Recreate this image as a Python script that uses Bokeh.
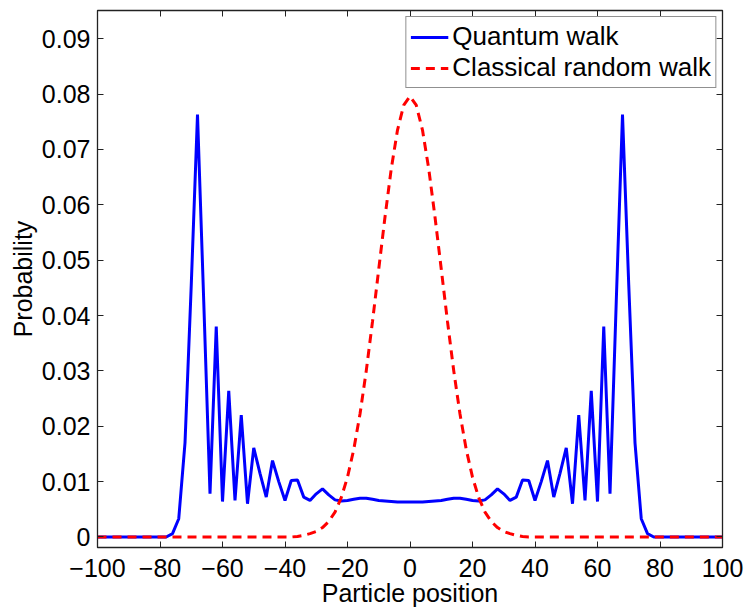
from bokeh.plotting import figure
from bokeh.models import (LinearAxis, Range1d, FixedTicker, Legend, LegendItem,
                          CustomLabelingPolicy)
from bokeh.embed import file_html
from bokeh.resources import INLINE

positions = list(range(-100, 101, 2))

quantum = [
    0, 0, 0, 0, 0, 0, 0, 0, 0, 0, 0, 0,
    0.0006, 0.0033, 0.0170, 0.0455, 0.0763, 0.0425, 0.0078, 0.0380, 0.0064, 0.0264,
    0.0066, 0.0220, 0.0060, 0.0161, 0.0115, 0.0072, 0.0138, 0.0100, 0.0066, 0.0102,
    0.0103, 0.0072, 0.0066, 0.0078, 0.0087, 0.0076, 0.0067, 0.0065, 0.0066, 0.0068,
    0.0070, 0.0070, 0.0068, 0.0066, 0.0065, 0.0064, 0.0063, 0.0063,
    0.0063,
    0.0063, 0.0063, 0.0064, 0.0065, 0.0066, 0.0068, 0.0070, 0.0070, 0.0068, 0.0066,
    0.0065, 0.0067, 0.0076, 0.0087, 0.0078, 0.0066, 0.0072, 0.0103, 0.0102, 0.0066,
    0.0100, 0.0138, 0.0072, 0.0115, 0.0161, 0.0060, 0.0220, 0.0066, 0.0264, 0.0064,
    0.0380, 0.0078, 0.0425, 0.0763, 0.0455, 0.0170, 0.0033, 0.0006,
    0, 0, 0, 0, 0, 0, 0, 0, 0, 0, 0, 0,
]

classical = [
    0, 0, 0, 0, 0, 0, 0, 0, 0, 0, 0, 0, 0, 0, 0, 0,
    0, 0, 0, 0, 0, 0, 0, 0, 0, 0, 0, 0, 0, 0, 0, 0,
    0.0001, 0.0003, 0.0006, 0.0010, 0.0017, 0.0028, 0.0045, 0.0071, 0.0108, 0.0158,
    0.0222, 0.0300, 0.0389, 0.0484, 0.0578, 0.0665, 0.0735, 0.0780,
    0.0796,
    0.0780, 0.0735, 0.0665, 0.0578, 0.0484, 0.0389, 0.0300, 0.0222, 0.0158, 0.0108,
    0.0071, 0.0045, 0.0028, 0.0017, 0.0010, 0.0006, 0.0003, 0.0001,
    0, 0, 0, 0, 0, 0, 0, 0, 0, 0, 0, 0, 0, 0, 0, 0,
    0, 0, 0, 0, 0, 0, 0, 0, 0, 0, 0, 0, 0, 0, 0, 0,
]

x_ticks = [-100, -80, -60, -40, -20, 0, 20, 40, 60, 80, 100]
x_tick_labels = ["\u2212100", "\u221280", "\u221260", "\u221240", "\u221220",
                 "0", "20", "40", "60", "80", "100"]
y_ticks = [0, 0.01, 0.02, 0.03, 0.04, 0.05, 0.06, 0.07, 0.08, 0.09]
y_tick_labels = ["0", "0.01", "0.02", "0.03", "0.04", "0.05", "0.06", "0.07", "0.08", "0.09"]

series_names = ["Quantum walk", "Classical random walk"]
x_label = "Particle position"
y_label = "Probability"

FONT = "Liberation Sans"
FS = "25px"
AX = "#222222"

p = figure(width=746, height=609, output_backend="svg", toolbar_location=None,
           x_range=Range1d(-100, 100), y_range=Range1d(-0.0019, 0.0951),
           min_border_left=97, min_border_right=24, min_border_top=10, min_border_bottom=0)
p.xgrid.visible = False
p.ygrid.visible = False
p.outline_line_color = AX
p.outline_line_width = 1.3
p.background_fill_color = "white"
p.border_fill_color = "white"

def style_axis(ax, labels=True):
    ax.axis_line_color = AX
    ax.major_tick_line_color = AX
    ax.major_tick_in = 6
    ax.major_tick_out = 0
    ax.minor_tick_line_color = None
    ax.major_label_text_font = FONT
    ax.major_label_text_color = "black"
    ax.axis_label_text_font = FONT
    ax.axis_label_text_font_style = "normal"
    ax.axis_label_text_color = "black"
    if labels:
        ax.major_label_text_font_size = FS
        ax.axis_label_text_font_size = FS
    else:
        ax.major_label_text_font_size = "1px"
        ax.major_label_standoff = 0
        ax.axis_label_standoff = 0
        ax.major_label_policy = CustomLabelingPolicy(code="return []")

p.xaxis.ticker = FixedTicker(ticks=x_ticks)
p.yaxis.ticker = FixedTicker(ticks=y_ticks)
p.xaxis.major_label_overrides = {t: l for t, l in zip(x_ticks, x_tick_labels)}
p.yaxis.major_label_overrides = {t: l for t, l in zip(y_ticks, y_tick_labels)}
p.xaxis.axis_label = x_label
p.yaxis.axis_label = y_label
style_axis(p.xaxis[0])
style_axis(p.yaxis[0])
p.xaxis.major_label_standoff = 11
p.xaxis.axis_label_standoff = -1
p.yaxis.major_label_standoff = 7
p.yaxis.axis_label_standoff = 2

top = LinearAxis(ticker=FixedTicker(ticks=x_ticks))
right = LinearAxis(ticker=FixedTicker(ticks=y_ticks))
style_axis(top, labels=False)
style_axis(right, labels=False)
p.add_layout(top, "above")
p.add_layout(right, "right")

r_q = p.line(positions, quantum, line_color="#0000ff", line_width=3)
r_c = p.line(positions, classical, line_color="#ff0000", line_width=3, line_dash="9 6")

legend = Legend(items=[LegendItem(label=series_names[0], renderers=[r_q]),
                       LegendItem(label=series_names[1], renderers=[r_c])],
                location="top_right")
legend.label_text_font = FONT
legend.label_text_font_size = "26px"
legend.label_text_color = "black"
legend.border_line_color = AX
legend.border_line_width = 1.3
legend.background_fill_color = "white"
legend.background_fill_alpha = 1
legend.glyph_width = 38
legend.label_standoff = 4
legend.padding = 4
legend.spacing = 0
legend.margin = 6
legend.label_height = 30
p.add_layout(legend, "center")

open("out.html", "w").write(file_html(p, INLINE))
